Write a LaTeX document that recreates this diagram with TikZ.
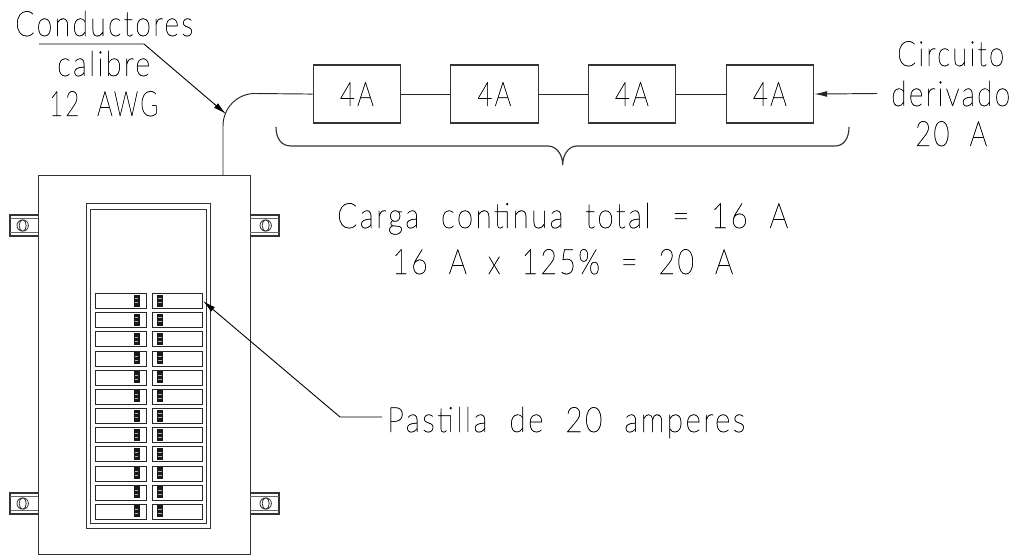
\documentclass[tikz,border=0pt]{standalone}
\usepackage{fontspec}
\setmainfont{Lato Hairline}[FakeBold=0.9]
\usetikzlibrary{arrows.meta}
\newcommand{\fitw}[2]{\resizebox{#1pt}{\height}{\addfontfeature{LetterSpace=8}#2}}
\tikzset{
 ln/.style={line width=1.15pt,black!80},
 wire/.style={line width=0.95pt,black!85},
 leaderln/.style={line width=0.9pt,black},
 leadertip/.style={-{Latex[length=13pt,width=6pt]}},
 loadbox/.style={draw,line width=1.15pt,black!80,minimum width=87.5pt,minimum height=58pt,inner sep=0pt,text=black,font=\fontsize{34}{34}\selectfont,anchor=north west},
 lbl/.style={inner sep=0pt,text=black,font=\fontsize{35}{35}\selectfont,anchor=base west},
 breaker/.style={draw,line width=1pt,black!85,minimum width=50.5pt,minimum height=15pt,inner sep=0pt,anchor=north west},
 ind/.style={fill=black!90,minimum width=6pt,minimum height=12pt,inner sep=0pt,draw=none}
}
\begin{document}
\begin{tikzpicture}[x=1pt,y=-1pt]
\useasboundingbox (0,0) rectangle (1016,556);
% enclosure
\node[draw,ln,minimum width=212pt,minimum height=379pt,inner sep=0pt,anchor=north west] (panel) at (38,175) {};
\node[draw,ln,minimum width=124pt,minimum height=325pt,inner sep=0pt,anchor=north west] (frameA) at (86,203) {};
\node[draw,ln,minimum width=116pt,minimum height=314pt,inner sep=0pt,anchor=north west] (frameB) at (90,209) {};
% mounting tabs
\foreach \yy in {215,493}{
 \draw[ln] (38,\yy) -- (10,\yy) -- (10,\yy+21) -- (38,\yy+21);
 \draw[line width=.6pt,black!60] (10,\yy+3.5) -- (38,\yy+3.5) (10,\yy+17.5) -- (38,\yy+17.5);
 \draw[line width=.8pt,black!80] (22.7,\yy+10.5) circle[radius=5.7pt] (22.7,\yy+10.5) circle[x radius=3.5pt,y radius=5.7pt];
 \draw[ln] (250,\yy) -- (279,\yy) -- (279,\yy+21) -- (250,\yy+21);
 \draw[line width=.6pt,black!60] (279,\yy+3.5) -- (250,\yy+3.5) (279,\yy+17.5) -- (250,\yy+17.5);
 \draw[line width=.8pt,black!80] (265.7,\yy+10.5) circle[radius=5.7pt] (265.7,\yy+10.5) circle[x radius=3.5pt,y radius=5.7pt];
}
% breakers
\foreach \i in {0,...,11}{
 \pgfmathsetmacro{\yy}{293+19.18*\i}
 \node[breaker] (L\i) at (95,\yy) {};
 \node[breaker] (R\i) at (151.5,\yy) {};
 \node[ind] at (136.7,\yy+7.5) {};
 \node[ind] at (160,\yy+7.5) {};
 \draw[black!30,line width=.4pt] (135,\yy+5.5) -- (138.4,\yy+5.5) (135,\yy+9.5) -- (138.4,\yy+9.5);
 \draw[black!30,line width=.4pt] (158.3,\yy+5.5) -- (161.7,\yy+5.5) (158.3,\yy+9.5) -- (161.7,\yy+9.5);
}
% loads
\node[loadbox] (b1) at (312.5,64.5) {\fitw{34}{4A}};
\node[loadbox] (b2) at (450,64.5) {\fitw{34}{4A}};
\node[loadbox] (b3) at (587.5,64.5) {\fitw{34}{4A}};
\node[loadbox] (b4) at (725.5,64.5) {\fitw{34}{4A}};
\draw[wire] (b1) -- (b2) (b2) -- (b3) (b3) -- (b4);
\coordinate (cbottom) at (223,175);
\draw[wire] (cbottom) -- (223,126) .. controls (223,108) and (237,93.5) .. (255,93.5) -- (b1.west);
% brace
\coordinate (brL) at (276,127);
\coordinate (brR) at (849,127);
\coordinate (brM) at (562.7,165);
\draw[ln] (brL) .. controls (276,138) and (281,146) .. (291,146) -- (548,146) .. controls (556,146) and (562.7,154) .. (brM) .. controls (562.7,154) and (569,146) .. (577,146) -- (835,146) .. controls (844,146) and (849,138) .. (brR);
% labels
\node[lbl] (t1) at (15,36) {\fitw{178}{Conductores}};
\node[lbl] (t2) at (57,76) {\fitw{93}{calibre}};
\node[lbl] (t3) at (49,116) {\fitw{109}{12 \ AWG}};
\node[lbl] (t4) at (897,66) {\fitw{107}{Circuito}};
\node[lbl] (t5) at (891,106) {\fitw{119}{derivado}};
\node[lbl] (t6) at (915,146) {\fitw{72}{20 \ A}};
\node[lbl] (t7) at (337,228) {\fitw{451}{Carga \ continua \ total \ = \ 16 \ A}};
\node[lbl] (t8) at (392,274) {\fitw{341}{16 \ A \ x \ 125\% \ = \ 20 \ A}};
\node[lbl] (t9) at (387,432) {\fitw{358}{Pastilla \ de \ 20 \ amperes}};
% leaders
\coordinate (la) at (39,44);
\coordinate (lb) at (144,44);
\coordinate (ltip) at (226,114);
\draw[leaderln,leadertip] (la) -- (lb) -- (ltip);
\coordinate (pa) at (382,417);
\coordinate (pb) at (340,417);
\draw[leaderln,leadertip] (pa) -- (pb) -- (R0.east);
\coordinate (ca) at (877,93.5);
\draw[wire,leadertip] (ca) -- (b4.east);
\end{tikzpicture}
\end{document}
